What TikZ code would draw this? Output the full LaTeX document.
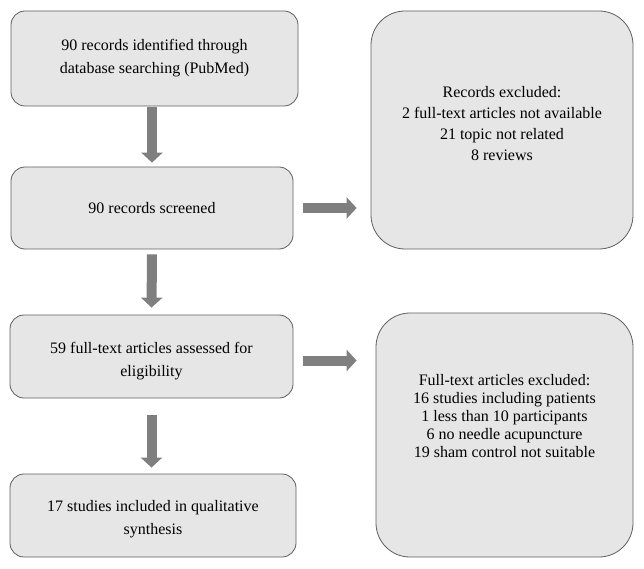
\documentclass[tikz,border=0pt]{standalone}
\usepackage{fontspec}
\setmainfont{Liberation Serif}
\usetikzlibrary{arrows.meta,calc,positioning}
\definecolor{boxfill}{HTML}{E6E6E6}
\definecolor{boxline}{HTML}{5E5E5E}
\definecolor{arrowgray}{HTML}{7F7F7F}

\begin{document}
\begin{tikzpicture}[x=1pt,y=1pt,
		leftbox/.style={draw=boxline,fill=boxfill,line width=0.8pt,rounded corners=14pt,align=center,inner sep=0pt,font=\fontsize{16}{23}\selectfont},
		exclbox/.style={leftbox,rounded corners=34pt},
		flowarrow/.style={draw=arrowgray,line width=10pt,-{Triangle[width=21pt,length=10pt]}}
		]
		\useasboundingbox (0,0) rectangle (644,568);
		\node[leftbox,minimum width=287pt,minimum height=95pt] (ident) at (154.5,509.5) {90 records identified through\\database searching (PubMed)};
		\node[leftbox,minimum width=282pt,minimum height=82pt] (screen) at (152,360) {90 records screened};
		\node[leftbox,minimum width=283pt,minimum height=83pt,text height=44pt] (assess) at (151.5,211.5) {59 full-text articles assessed for\\eligibility};
		\node[leftbox,minimum width=286pt,minimum height=83pt,text height=42pt] (incl) at (153,52.5) {17 studies included in qualitative\\synthesis};
		\node[exclbox,minimum width=262pt,minimum height=238pt,text depth=13pt,font=\fontsize{16}{21}\selectfont] (recexcl) at (502,438) {Records excluded:\\2 full-text articles not available\\21 topic not related\\8 reviews};
		\node[exclbox,minimum width=257pt,minimum height=244pt,text depth=38pt,font=\fontsize{16}{18}\selectfont] (ftexcl) at (504.5,133) {Full-text articles excluded:\\16 studies including patients\\1 less than 10 participants\\6 no needle acupuncture\\19 sham control not suitable};
		% down arrows
		\draw[flowarrow,shorten <=1pt,shorten >=4pt] (ident.south -| screen) -- (screen.north);
		\draw[flowarrow,shorten <=5pt,shorten >=7pt] (screen.south) -- (assess.north);
		\draw[flowarrow,shorten <=17pt,shorten >=6pt] (assess.south) -- (incl.north -| assess);
		% side arrows
		\draw[flowarrow,shorten <=10pt,shorten >=14pt] (screen.east) -- (screen.east -| recexcl.west);
		\draw[flowarrow,shorten <=10pt,shorten >=19pt] ($(assess.east)+(0,-4)$) -- ($(assess.east -| ftexcl.west)+(0,-4)$);
\end{tikzpicture}
\end{document}
